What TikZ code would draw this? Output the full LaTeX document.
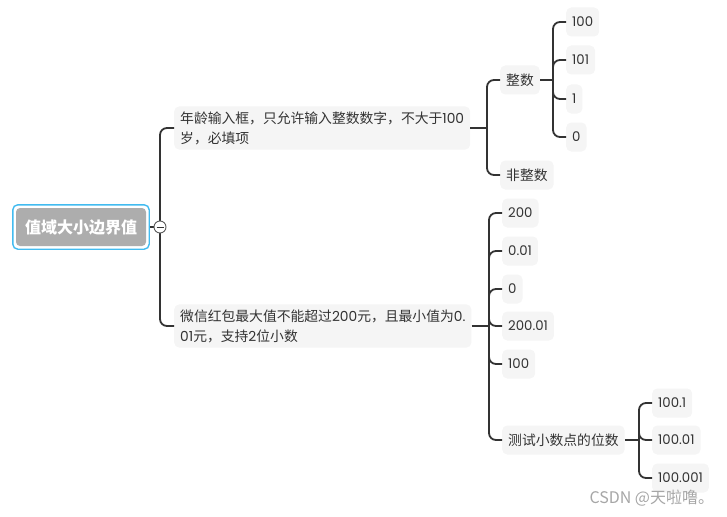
\documentclass[tikz,border=0pt]{standalone}
\usepackage{fontspec}
\setmainfont{Poppins}
\newfontfamily\cjk{Noto Sans CJK SC}
\newfontfamily\pop{Poppins}
\usetikzlibrary{positioning,fit,calc}
\definecolor{ink}{RGB}{51,51,51}
\definecolor{cLeaf}{RGB}{245,245,245}
\definecolor{cRoot}{RGB}{173,173,173}
\definecolor{cRing}{RGB}{66,187,240}
\definecolor{wm}{RGB}{166,166,166}

\begin{document}
\begin{tikzpicture}[
  x=1pt, y=-1pt,
  root/.style={fill=cRoot, rounded corners=4pt, text=white, minimum width=130pt, minimum height=38pt, inner sep=0pt, font=\fontsize{16}{18}\selectfont\cjk\bfseries},
  ring/.style={draw=cRing, line width=1.4pt, rounded corners=5pt, inner sep=3pt},
  topic/.style={fill=cLeaf, rounded corners=5pt, anchor=west, align=left, inner xsep=6pt, inner ysep=5pt, text=ink, minimum height=29pt, font=\fontsize{13.8}{20}\selectfont\cjk},
  leaf/.style={topic, font=\fontsize{13.3}{15}\selectfont\pop},
  link/.style={draw=ink, line width=1.8pt},
  elbow/.style={link, rounded corners=7pt},
  fold/.style={circle, draw=ink!80, line width=0.9pt, fill=white, minimum size=12pt, inner sep=0pt},
  wmark/.style={anchor=west, text=wm, font=\fontsize{16}{18}\selectfont\cjk}
]
\useasboundingbox (0,0) rectangle (727,516);

% ---------------- ROOT ----------------
\node (root) at (81,227) [root] {值域大小边界值};
\node[fit=(root), ring] (rootring) {};
\coordinate (jRoot) at (160,227);

% ---------------- FIRST CASE: age input ----------------
\node (age) at (174,128) [topic] {年龄输入框，只允许输入整数数字，不大于{\pop 100}\\岁，必填项};
\coordinate (jAge) at (487,128);
\node (int)    at (500,80)  [topic] {整数};
\node (nonint) at (500,175) [topic] {非整数};
\coordinate (jInt) at (553,80);
\node (i100) at (566,22)  [leaf] {100};
\node (i101) at (566,60)  [leaf] {101};
\node (i1)   at (566,99)  [leaf] {1};
\node (i0)   at (566,137) [leaf] {0};

\draw[link] (age.east) -- (jAge);
\draw[elbow] (jAge) |- (int.west);
\draw[elbow] (jAge) |- (nonint.west);
\draw[link] (int.east) -- (jInt);
\draw[elbow] (jInt) |- (i100.west);
\draw[elbow] (jInt) |- (i101.west);
\draw[elbow] (jInt) |- (i1.west);
\draw[elbow] (jInt) |- (i0.west);

% ---------------- SECOND CASE: red packet ----------------
\node (red) at (174,326) [topic] {微信红包最大值不能超过{\pop 200}元，且最小值为{\pop 0.}\\{\pop 01}元，支持{\pop 2}位小数};
\coordinate (jRed) at (489,326);
\node (r200)   at (502,213) [leaf] {200};
\node (r001)   at (502,251) [leaf] {0.01};
\node (r0)     at (502,289) [leaf] {0};
\node (r20001) at (502,326) [leaf] {200.01};
\node (r100)   at (502,364) [leaf] {100};
\node (dec)    at (502,440) [topic] {测试小数点的位数};
\coordinate (jDec) at (639,440);
\node (d1)   at (652,403) [leaf] {100.1};
\node (d01)  at (652,440) [leaf] {100.01};
\node (d001) at (652,478) [leaf] {100.001};

\draw[link] (red.east) -- (jRed);
\draw[elbow] (jRed) |- (r200.west);
\draw[elbow] (jRed) |- (r001.west);
\draw[elbow] (jRed) |- (r0.west);
\draw[elbow] (jRed) |- (r20001.west);
\draw[elbow] (jRed) |- (r100.west);
\draw[elbow] (jRed) |- (dec.west);
\draw[link] (dec.east) -- (jDec);
\draw[elbow] (jDec) |- (d1.west);
\draw[elbow] (jDec) |- (d01.west);
\draw[elbow] (jDec) |- (d001.west);

% ---------------- ROOT LINKS + FOLD ----------------
\draw[link] (rootring.east) -- (jRoot);
\draw[elbow] (jRoot) |- (age.west);
\draw[elbow] (jRoot) |- (red.west);
\node (fold) at (jRoot) [fold] {};
\draw[ink, line width=0.9pt] ($(fold)+(-3.5,0)$) -- ($(fold)+(3.5,0)$);

% watermark
\node (wmk) at (586,498) [wmark] {CSDN @天啦噜。};

\end{tikzpicture}
\end{document}
